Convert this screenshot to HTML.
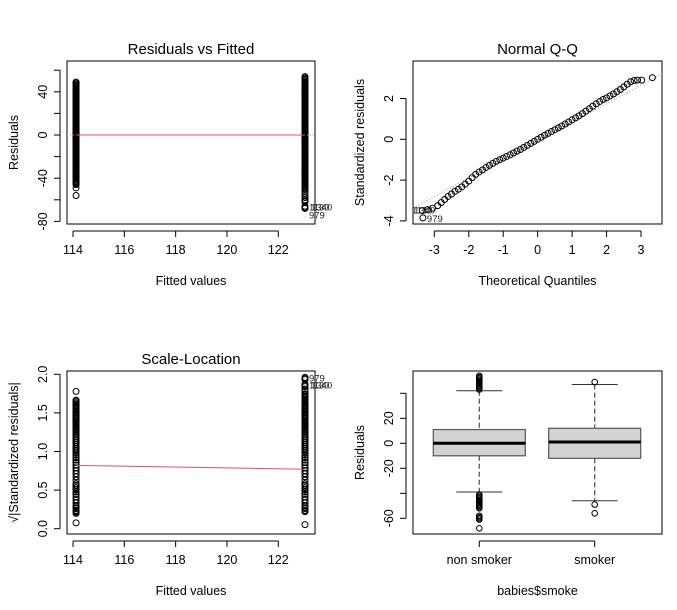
<!DOCTYPE html>
<html><head><meta charset="utf-8"><style>
html,body{margin:0;padding:0;background:#fff;}
svg{display:block;font-family:"Liberation Sans",Arial,sans-serif;}
</style></head><body>
<svg id="c" width="677" height="610" viewBox="0 0 677 610" xmlns="http://www.w3.org/2000/svg"></svg>
<script>
// ---- data ----
const fittedGroups = [114.12, 123.04];
const smokerResiduals = [-56,-49,-46,-45,-44,-43,-42,-41,-40,-39,-38,-37,-36,-35,-34,-33,-32,-31,-30,-29,-28,-27,-26,-25,-24,-23,-22,-21,-20,-19,-18,-17,-16,-15,-14,-13,-12,-11,-10,-9,-8,-7,-6,-5.5,-5,-4.5,-4,-3.5,-3,-2.5,-2,-1.5,-1.2,-0.9,-0.7,0.1,0.8,1,1.3,1.6,2,2.5,3,3.5,4,4.5,5,5.5,6,7,8,9,10,11,12,13,14,15,16,17,18,19,20,21,22,23,24,25,26,27,28,29,30,31,32,33,34,35,36,37,38,39,40,41,42,43,44,45,46,47,48,49];
const nonSmokerResiduals = [-68,-67,-66,-62,-61,-60,-58,-56,-54,-52,-50,-49,-48,-47,-46,-45,-44,-43,-42,-41,-40,-39,-38,-37,-36,-35,-34,-33,-32,-31,-30,-29,-28,-27,-26,-25,-24,-23,-22,-21,-20,-19,-18,-17,-16,-15,-14,-13,-12,-11,-10,-9,-8,-7,-6,-5.5,-5,-4.5,-4,-3.5,-3,-2.5,-2,-1.6,-1.3,-1,-0.86,-0.05,0.9,1.2,1.5,2,2.5,3,3.5,4,4.5,5,5.5,6,7,8,9,10,11,12,13,14,15,16,17,18,19,20,21,22,23,24,25,26,27,28,29,30,31,32,33,34,35,36,37,38,39,40,41,42,43,44,45,46,47,48,49,50,51,52,53,54];
const residualSigma = 17.7;
const slLine = [0.82, 0.77];
const qqTheoretical = [-3.33,-3.35,-3.2,-3.05,-2.9,-2.8,-2.7,-2.6,-2.5,-2.4,-2.3,-2.2,-2.1,-2.0,-1.9,-1.8,-1.7,-1.6,-1.5,-1.4,-1.3,-1.2,-1.1,-1.0,-0.9,-0.8,-0.7,-0.6,-0.5,-0.4,-0.3,-0.2,-0.1,0,0.1,0.2,0.3,0.4,0.5,0.6,0.7,0.8,0.9,1.0,1.1,1.2,1.3,1.4,1.5,1.6,1.7,1.8,1.9,2.0,2.1,2.2,2.3,2.4,2.5,2.6,2.7,2.8,2.9,3.02,3.33];
const qqStandardized = [-3.85,-3.5,-3.45,-3.38,-3.25,-3.1,-2.95,-2.8,-2.68,-2.55,-2.45,-2.33,-2.2,-2.05,-1.88,-1.72,-1.6,-1.5,-1.38,-1.28,-1.18,-1.08,-1.0,-0.92,-0.84,-0.76,-0.67,-0.58,-0.5,-0.4,-0.3,-0.2,-0.1,0,0.1,0.2,0.29,0.38,0.47,0.56,0.65,0.75,0.85,0.95,1.05,1.15,1.26,1.38,1.5,1.62,1.74,1.85,1.95,2.03,2.13,2.22,2.33,2.44,2.57,2.7,2.82,2.88,2.9,2.9,3.02];
const qqLine = [-0.08, 0.91]; // intercept, slope
const boxGroups = ["non smoker","smoker"];
const boxQ1 = [-10,-12], boxMedian = [0,1], boxQ3 = [11,12];
const boxLowWhisker = [-39,-46], boxHighWhisker = [42,47];
const boxOutliersNon = [43,44,45,46,47,48,49,50,51,52,53,54,-41,-42,-43,-44,-45,-46,-47,-48,-49,-50,-51,-52,-58,-59,-60,-61,-68];
const boxOutliersSmoker = [49,-49,-56];

// ---- helpers ----
const svg = document.getElementById('c');
const NS = 'http://www.w3.org/2000/svg';
function mk(tag, attrs, parent){const e=document.createElementNS(NS,tag);for(const k in attrs)e.setAttribute(k,attrs[k]);(parent||svg).appendChild(e);return e;}
function txt(s, attrs, parent){const e=mk('text',attrs,parent);e.textContent=s;return e;}
function lin(a,b,c,d){return v=>c+(v-a)*(d-c)/(b-a);}
function panel(name, box, sx, sy, xticks, xlabs, yticks, ylabs, title, xlab, ylab){
  const g=mk('g',{});
  
  
  const r=mk('rect',{x:box[0],y:box[1],width:box[2]-box[0],height:box[3]-box[1],fill:'none',stroke:'#000','stroke-width':1},g);
  
  const xa=mk('g',{},g);
  if(xticks.length) mk('line',{x1:sx(xticks[0]),x2:sx(xticks[xticks.length-1]),y1:box[3]+7,y2:box[3]+7,stroke:'#000'},xa);
  xticks.forEach((t,i)=>{mk('line',{x1:sx(t),x2:sx(t),y1:box[3]+7,y2:box[3]+13,stroke:'#000'},xa);
    if(xlabs[i]!==null){const l=txt(xlabs[i],{x:sx(t),y:box[3]+30,'text-anchor':'middle','font-size':12.5},xa);}});
  const ya=mk('g',{},g);
  mk('line',{x1:box[0]-7,x2:box[0]-7,y1:sy(yticks[0]),y2:sy(yticks[yticks.length-1]),stroke:'#000'},ya);
  yticks.forEach((t,i)=>{mk('line',{x1:box[0]-13,x2:box[0]-7,y1:sy(t),y2:sy(t),stroke:'#000'},ya);
    if(ylabs[i]!==null){const xx=box[0]-20,yy=sy(t);const l=txt(ylabs[i],{x:xx,y:yy,'text-anchor':'middle','font-size':12.5,transform:`rotate(-90 ${xx} ${yy})`},ya);}});
  if(title){const t=txt(title,{x:(box[0]+box[2])/2,y:box[1]-7,'text-anchor':'middle','font-size':15},g);}
  const xl=txt(xlab,{x:(box[0]+box[2])/2,y:box[3]+61,'text-anchor':'middle','font-size':12.5},g);
  const yx=box[0]-49, yy=(box[1]+box[3])/2;
  const yl=txt(ylab,{x:yx,y:yy,'text-anchor':'middle','font-size':12.5,transform:`rotate(-90 ${yx} ${yy})`},g);
  return g;
}
function pt(g,x,y){const c=mk('circle',{cx:x,cy:y,r:3,fill:'none',stroke:'#000','stroke-width':1},g);
  
  }

// ---- panel 1: residuals vs fitted ----
{
const box=[67,61,315,224];
const sx=lin(114,122,73,278.3), sy=lin(0,40,135,91.8);
const g=panel('residuals-vs-fitted',box,sx,sy,[114,116,118,120,122],['114','116','118','120','122'],
  [-80,-60,-40,-20,0,20,40,60],['-80',null,'-40',null,'0',null,'40',null],'Residuals vs Fitted','Fitted values','Residuals');
smokerResiduals.forEach(r=>pt(g,sx(fittedGroups[0]),sy(r)));
nonSmokerResiduals.forEach(r=>pt(g,sx(fittedGroups[1]),sy(r)));
mk('line',{x1:box[0],x2:box[2],y1:sy(0),y2:sy(0),stroke:'#999','stroke-dasharray':'1,2'},g);
const rl=mk('line',{x1:sx(fittedGroups[0]),x2:sx(fittedGroups[1]),y1:sy(0),y2:sy(0),stroke:'#df536b','stroke-width':1},g);

txt('1130',{x:sx(fittedGroups[1])+4,y:sy(-66)+4,'font-size':9.5,fill:'#222'},g);
txt('1340',{x:sx(fittedGroups[1])+6,y:sy(-66)+4,'font-size':9.5,fill:'#222'},g);
txt('979',{x:sx(fittedGroups[1])+4,y:sy(-68)+10,'font-size':9.5,fill:'#222'},g);
}
// ---- panel 2: normal QQ ----
{
const box=[413,61,662,224];
const sx=lin(-3,3,434.3,641), sy=lin(0,2,139.3,98.5);
const g=panel('normal-qq',box,sx,sy,[-3,-2,-1,0,1,2,3],['-3','-2','-1','0','1','2','3'],
  [-4,-2,0,2],['-4','-2','0','2'],'Normal Q-Q','Theoretical Quantiles','Standardized residuals');
const cp=mk('clipPath',{id:'qqclip'},g);mk('rect',{x:box[0],y:box[1],width:box[2]-box[0],height:box[3]-box[1]},cp);
const ql=mk('line',{x1:sx(-4),x2:sx(4),y1:sy(qqLine[0]+qqLine[1]*-4),y2:sy(qqLine[0]+qqLine[1]*4),stroke:'#999','stroke-dasharray':'1,2','clip-path':'url(#qqclip)'},g);

qqTheoretical.forEach((t,i)=>pt(g,sx(t),sy(qqStandardized[i])));
txt('1130',{x:box[0]-1,y:sy(-3.45)+4,'font-size':9.5,fill:'#222'},g);
txt('1340',{x:box[0]+1,y:sy(-3.45)+4,'font-size':9.5,fill:'#222'},g);
txt('979',{x:sx(-3.33)+4,y:sy(-3.85)+4,'font-size':9.5,fill:'#222'},g);
}
// ---- panel 3: scale-location ----
{
const box=[67,371,315,534];
const sx=lin(114,122,73,278.3), sy=lin(0,2,528.7,374.3);
const g=panel('scale-location',box,sx,sy,[114,116,118,120,122],['114','116','118','120','122'],
  [0,0.5,1,1.5,2],['0.0','0.5','1.0','1.5','2.0'],'Scale-Location','Fitted values','\u221A|Standardized residuals|');
smokerResiduals.forEach(r=>pt(g,sx(fittedGroups[0]),sy(Math.sqrt(Math.abs(r)/residualSigma))));
nonSmokerResiduals.forEach(r=>pt(g,sx(fittedGroups[1]),sy(Math.sqrt(Math.abs(r)/residualSigma))));
const rl=mk('line',{x1:sx(fittedGroups[0]),x2:sx(fittedGroups[1]),y1:sy(slLine[0]),y2:sy(slLine[1]),stroke:'#df536b'},g);

const xr=sx(fittedGroups[1])+4;
txt('979',{x:xr,y:sy(1.96)+4,'font-size':9.5,fill:'#222'},g);
txt('1130',{x:xr,y:sy(1.87)+4,'font-size':9.5,fill:'#222'},g);
txt('1340',{x:xr+2,y:sy(1.87)+4,'font-size':9.5,fill:'#222'},g);
}
// ---- panel 4: boxplot ----
{
const box=[413,371,662,534];
const sx=lin(0,1,479.3,594.7), sy=lin(0,20,443.3,418.3);
const g=panel('residuals-boxplot',box,sx,sy,[0,1],boxGroups,
  [-60,-40,-20,0,20,40],['-60',null,'-20','0','20',null],null,'babies$smoke','Residuals');
const outs=[boxOutliersNon,boxOutliersSmoker];
boxGroups.forEach((name,i)=>{
  const bg=mk('g',{},g);
  
  
  const cx=sx(i), hw=46, ww=23;
  mk('line',{x1:cx,x2:cx,y1:sy(boxHighWhisker[i]),y2:sy(boxQ3[i]),stroke:'#555','stroke-dasharray':'5,3','stroke-width':1.3},bg);
  mk('line',{x1:cx,x2:cx,y1:sy(boxQ1[i]),y2:sy(boxLowWhisker[i]),stroke:'#555','stroke-dasharray':'5,3','stroke-width':1.3},bg);
  mk('line',{x1:cx-ww,x2:cx+ww,y1:sy(boxHighWhisker[i]),y2:sy(boxHighWhisker[i]),stroke:'#333'},bg);
  mk('line',{x1:cx-ww,x2:cx+ww,y1:sy(boxLowWhisker[i]),y2:sy(boxLowWhisker[i]),stroke:'#333'},bg);
  mk('rect',{x:cx-hw,y:sy(boxQ3[i]),width:2*hw,height:sy(boxQ1[i])-sy(boxQ3[i]),fill:'#d3d3d3',stroke:'#555','stroke-width':1.2},bg);
  mk('line',{x1:cx-hw,x2:cx+hw,y1:sy(boxMedian[i]),y2:sy(boxMedian[i]),stroke:'#000','stroke-width':3},bg);
  outs[i].forEach(v=>{const c=mk('circle',{cx:cx,cy:sy(v),r:2.8,fill:'none',stroke:'#000'},bg);
    
    });
});
}
</script>
</body></html>
